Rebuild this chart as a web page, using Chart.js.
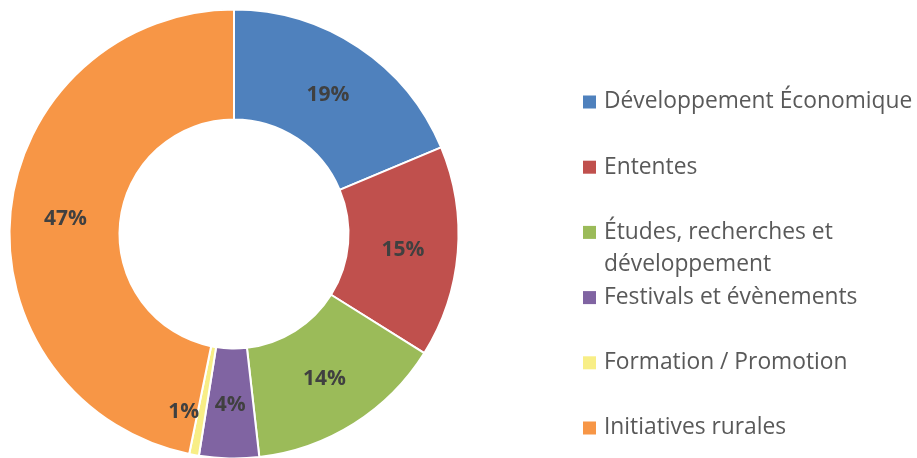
<!DOCTYPE html>
<html>
<head>
<meta charset="utf-8">
<script src="https://cdn.jsdelivr.net/npm/chart.js@4.4.1/dist/chart.umd.min.js"></script>
<style>
  html, body { margin: 0; padding: 0; background: #fff; }
  #wrap { width: 917px; height: 458px; }
</style>
</head>
<body>
<div id="wrap"><canvas id="budget-doughnut" width="917" height="458"></canvas></div>
<script>
  // Répartition par volet (parts en %)
  const categories = [
    'Développement Économique',
    'Ententes',
    'Études, recherches et développement',
    'Festivals et évènements',
    'Formation / Promotion',
    'Initiatives rurales'
  ];
  const shares = [18.7, 15.2, 14.3, 4.3, 0.7, 46.8];
  const colors = ['#4F81BD', '#C0504D', '#9BBB59', '#8064A2', '#F8EE86', '#F79646'];

  // étiquettes de pourcentage au milieu de chaque part
  const percentLabels = {
    id: 'percentLabels',
    afterDatasetsDraw(chart, args, opts) {
      const ctx = chart.ctx;
      const meta = chart.getDatasetMeta(0);
      const data = chart.data.datasets[0].data;
      const total = data.reduce((a, b) => a + b, 0);
      ctx.save();
      ctx.font = opts.font;
      ctx.fillStyle = opts.color;
      ctx.textAlign = 'center';
      ctx.textBaseline = 'middle';
      meta.data.forEach((arc, i) => {
        const p = arc.tooltipPosition();
        const off = (opts.offsets && opts.offsets[i]) || { x: 0, y: 0 };
        const txt = Math.round(data[i] / total * 100) + '%';
        ctx.fillText(txt, p.x + off.x, p.y + off.y + opts.dy);
      });
      ctx.restore();
    }
  };

  // légende dessinée à droite, avec retour à la ligne
  const sideLegend = {
    id: 'sideLegend',
    afterDraw(chart, args, opts) {
      const ctx = chart.ctx;
      ctx.save();
      ctx.font = opts.font;
      ctx.textBaseline = 'middle';
      chart.data.labels.forEach((label, i) => {
        const y = opts.top + i * opts.step;
        ctx.fillStyle = colors[i];
        ctx.fillRect(opts.x, y - opts.box / 2, opts.box, opts.box);
        // découpage en lignes
        const words = label.split(' ');
        const lines = [];
        let cur = '';
        words.forEach(w => {
          const t = cur ? cur + ' ' + w : w;
          if (ctx.measureText(t).width > opts.maxWidth && cur) {
            lines.push(cur);
            cur = w;
          } else {
            cur = t;
          }
        });
        lines.push(cur);
        ctx.fillStyle = opts.color;
        lines.forEach((ln, j) => ctx.fillText(ln, opts.textX, y + j * opts.lineHeight));
      });
      ctx.restore();
    }
  };

  const ctx = document.getElementById('budget-doughnut').getContext('2d');
  new Chart(ctx, {
    type: 'doughnut',
    data: {
      labels: categories,
      datasets: [{
        data: shares,
        backgroundColor: colors,
        borderColor: '#ffffff',
        borderWidth: 2
      }]
    },
    options: {
      responsive: false,
      devicePixelRatio: 1,
      animation: false,
      events: [],
      radius: 224.5,
      cutout: '51%',
      layout: { padding: { left: 9, right: 458, top: 10, bottom: 0 } },
      plugins: {
        legend: { display: false },
        tooltip: { enabled: false },
        percentLabels: {
          font: 'bold 21px "Open Sans"',
          color: '#404040',
          dy: 2,
          offsets: { 4: { x: -20, y: 9 } }
        },
        sideLegend: {
          font: '22.8px "Open Sans"',
          color: '#595959',
          x: 583,
          textX: 604,
          top: 102,
          step: 65.2,
          lineHeight: 32,
          box: 13,
          maxWidth: 318
        }
      }
    },
    plugins: [percentLabels, sideLegend]
  });
</script>
</body>
</html>
